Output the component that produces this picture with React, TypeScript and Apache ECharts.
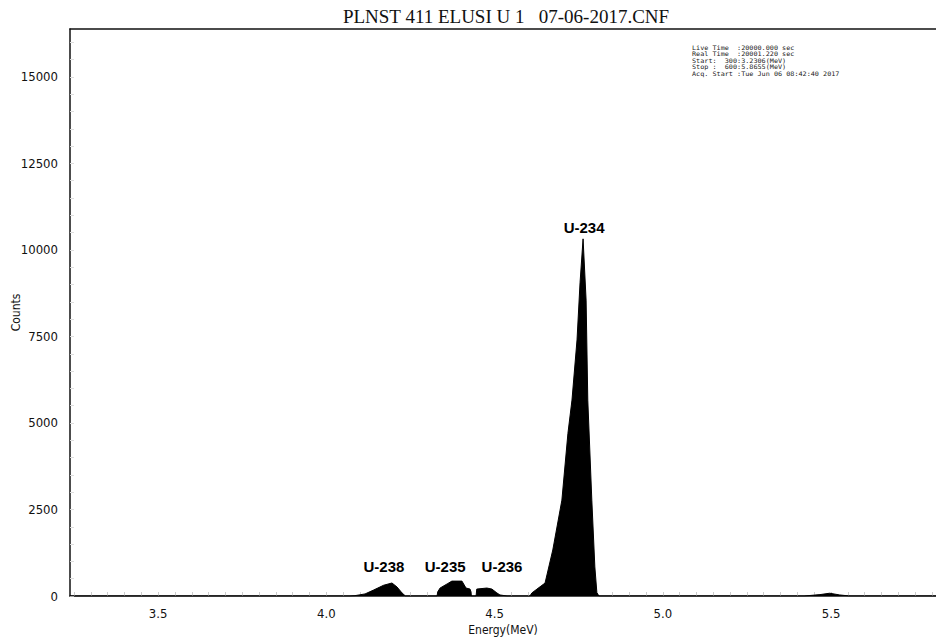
import React, { useEffect, useRef } from "react";
import * as echarts from "echarts";

const titleText = "PLNST 411 ELUSI U 1   07-06-2017.CNF";
const infoLines = [
  "Live Time  :20000.000 sec",
  "Real Time  :20001.220 sec",
  "Start:  300:3.2306(MeV)",
  "Stop :  600:5.8655(MeV)",
  "Acq. Start :Tue Jun 06 08:42:40 2017",
];

const xMin = 3.238;
const xMax = 5.812;
const yMax = 16384;
const xTickLabels = [3.5, 4.0, 4.5, 5.0, 5.5];
const yTickStep = 2500;

// energy (MeV)
const energy = [
  3.238, 4.07, 4.085, 4.115, 4.14, 4.17, 4.195, 4.21, 4.225, 4.235,
  4.329, 4.331, 4.338, 4.359, 4.373, 4.403, 4.415, 4.427, 4.43, 4.431,
  4.445, 4.447, 4.477, 4.492, 4.507, 4.516, 4.537,
  4.605, 4.611, 4.626, 4.65, 4.673, 4.7, 4.718, 4.73, 4.745, 4.754, 4.763,
  4.772, 4.777, 4.789, 4.798, 4.804, 4.81,
  5.42, 5.467, 5.496, 5.526, 5.556, 5.812,
];
// counts
const counts = [
  0, 0, 10, 60, 170, 310, 376, 260, 87, 0,
  0, 120, 230, 350, 430, 430, 230, 200, 120, 0,
  0, 200, 230, 200, 87, 30, 0,
  0, 90, 200, 375, 1330, 2770, 4700, 5660, 7400, 9050, 10320,
  8550, 5660, 2770, 840, 100, 0,
  0, 40, 80, 30, 0, 0,
];

const peakNames = ["U-238", "U-235", "U-236", "U-234"];
const peakLabelE = [4.171, 4.353, 4.522, 4.766];
const peakLabelC = [838, 838, 838, 10635];

export default function App() {
  const ref = useRef<HTMLDivElement>(null);
  useEffect(() => {
    if (!ref.current) return;
    const chart = echarts.init(ref.current, null, { renderer: "svg" });
    const minorTicks: number[] = [];
    for (let i = 65; i <= 116; i++) minorTicks.push(+(i * 0.05).toFixed(2));
    const yMinor: number[] = [];
    for (let v = 0; v <= 16000; v += 500) yMinor.push(v);
    const condensed = "'DejaVu Sans Condensed', 'Liberation Sans Narrow', 'DejaVu Sans', sans-serif";
    chart.setOption({
      animation: false,
      backgroundColor: "#ffffff",
      title: {
        text: titleText,
        left: 501,
        textAlign: "center",
        top: 2,
        textStyle: {
          fontFamily: "'Liberation Serif', 'Times New Roman', serif",
          fontSize: 19,
          fontWeight: "normal",
          color: "#111",
        },
      },
      graphic: infoLines.map((line, i) => ({
        type: "text",
        x: 692,
        y: 45 + i * 6.5,
        scaleX: 1.1,
        style: {
          text: line,
          font: "6.2px 'DejaVu Sans Mono', monospace",
          fill: "#222",
        },
      })),
      grid: { left: 70, top: 29, right: 0, bottom: 41, show: false, outerBoundsMode: "none", containLabel: false },
      xAxis: [
        {
          type: "value",
          min: xMin,
          max: xMax,
          name: "Energy(MeV)",
          nameLocation: "middle",
          nameGap: 28,
          nameMoveOverlap: false,
          nameTextStyle: { fontFamily: condensed, fontSize: 12, color: "#111" },
          axisLine: { show: true, lineStyle: { color: "#111", width: 1.5 } },
          axisTick: {
            show: true,
            inside: true,
            length: 4,
            customValues: minorTicks,
            lineStyle: { color: "#ccc", width: 1 },
          },
          axisLabel: {
            customValues: xTickLabels,
            formatter: (v: number) => v.toFixed(1),
            fontFamily: condensed,
            fontSize: 13,
            color: "#111",
            margin: 11,
          },
          splitLine: { show: false },
        },
        {
          type: "value",
          position: "top",
          min: xMin,
          max: xMax,
          axisLine: { show: true, lineStyle: { color: "#111", width: 1.5 } },
          axisTick: { show: false },
          axisLabel: { show: false },
          splitLine: { show: false },
        },
      ],
      yAxis: {
        type: "value",
        min: 0,
        max: yMax,
        interval: yTickStep,
        name: "Counts",
        nameLocation: "middle",
        nameGap: 48,
        nameMoveOverlap: false,
        nameTextStyle: { fontFamily: condensed, fontSize: 12, color: "#111" },
        axisLine: { show: true, lineStyle: { color: "#111", width: 1.5 } },
        axisTick: {
          show: true,
          inside: true,
          length: 4,
          customValues: yMinor,
          lineStyle: { color: "#ddd", width: 1 },
        },
        axisLabel: {
          fontFamily: condensed,
          fontSize: 13,
          color: "#111",
          margin: 12,
          showMaxLabel: false,
          formatter: (v: number) => String(v),
        },
        splitLine: { show: false },
      },
      series: [
        {
          type: "line",
          data: energy.map((e, i) => [e, counts[i]]),
          symbol: "none",
          lineStyle: { color: "#000", width: 1 },
          areaStyle: { color: "#000", opacity: 1 },
          markPoint: {
            symbol: "circle",
            symbolSize: 0,
            label: {
              show: true,
              position: "inside",
              fontFamily: "'Liberation Sans', Arial, sans-serif",
              fontWeight: "bold",
              fontSize: 15,
              color: "#000",
              formatter: (p: any) => p.name,
            },
            data: peakNames.map((n, i) => ({
              name: n,
              coord: [peakLabelE[i], peakLabelC[i]],
            })),
          },
        },
      ],
    });
    return () => chart.dispose();
  }, []);
  return <div ref={ref} style={{ width: 936, height: 637, position: "absolute", left: 0, top: 0 }} />;
}
